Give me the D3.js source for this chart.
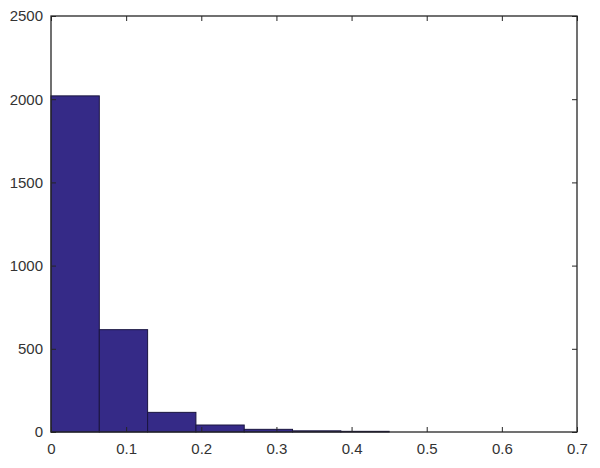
<!DOCTYPE html>
<html>
<head>
<meta charset="utf-8">
<script src="https://cdn.jsdelivr.net/npm/d3@7"></script>
<style>
  body { margin: 0; background: #fff; }
  text { font-family: "Liberation Sans", Arial, sans-serif; }
</style>
</head>
<body>
<svg width="600" height="468"></svg>
<script>
// histogram: 7 equal bins from 0 to 0.45
const binEdges = [0, 0.45 / 7, 0.9 / 7, 1.35 / 7, 1.8 / 7, 2.25 / 7, 2.7 / 7, 0.45]
const counts = [2020, 615, 118, 42, 16, 7, 4]
const xTicks = [0, 0.1, 0.2, 0.3, 0.4, 0.5, 0.6, 0.7]
const yTicks = [0, 500, 1000, 1500, 2000, 2500]

const plotLeft = 51, plotTop = 16, plotRight = 577, plotBottom = 432
const ink = "#262626"

const svg = d3.select("svg")

const x = d3.scaleLinear().domain([0, 0.7]).range([plotLeft, plotRight])
const y = d3.scaleLinear().domain([0, 2500]).range([plotBottom, plotTop])

// bars
svg.append("g")
  .selectAll("rect")
  .data(counts)
  .join("rect")
    .attr("x", (d, i) => x(binEdges[i]))
    .attr("y", d => y(d))
    .attr("width", (d, i) => x(binEdges[i + 1]) - x(binEdges[i]))
    .attr("height", d => plotBottom - y(d))
    .style("fill", "#352a87")
    .style("stroke", "#1a1540")
    .style("stroke-width", 1)

// axes, ticks pointing inward like matlab
function styleAxis(g) {
  g.select(".domain").remove()
  g.selectAll(".tick line").attr("stroke", ink)
  g.selectAll(".tick text").attr("fill", "#333").style("font-size", "15px")
}

svg.append("g")
  .attr("transform", "translate(0," + plotBottom + ")")
  .call(d3.axisBottom(x).tickValues(xTicks).tickFormat(d3.format("")).tickSizeInner(-5).tickPadding(11))
  .call(styleAxis)

svg.append("g")
  .attr("transform", "translate(0," + plotTop + ")")
  .call(d3.axisTop(x).tickValues(xTicks).tickFormat("").tickSizeInner(-5))
  .call(styleAxis)

svg.append("g")
  .attr("transform", "translate(" + plotLeft + ",0)")
  .call(d3.axisLeft(y).tickValues(yTicks).tickFormat(d3.format("d")).tickSizeInner(-5).tickPadding(8))
  .call(styleAxis)

svg.append("g")
  .attr("transform", "translate(" + plotRight + ",0)")
  .call(d3.axisRight(y).tickValues(yTicks).tickFormat("").tickSizeInner(-5))
  .call(styleAxis)

// box
svg.append("rect")
  .attr("x", plotLeft)
  .attr("y", plotTop)
  .attr("width", plotRight - plotLeft)
  .attr("height", plotBottom - plotTop)
  .style("fill", "none")
  .style("stroke", ink)
  .style("stroke-width", 1.3)
</script>
</body>
</html>
